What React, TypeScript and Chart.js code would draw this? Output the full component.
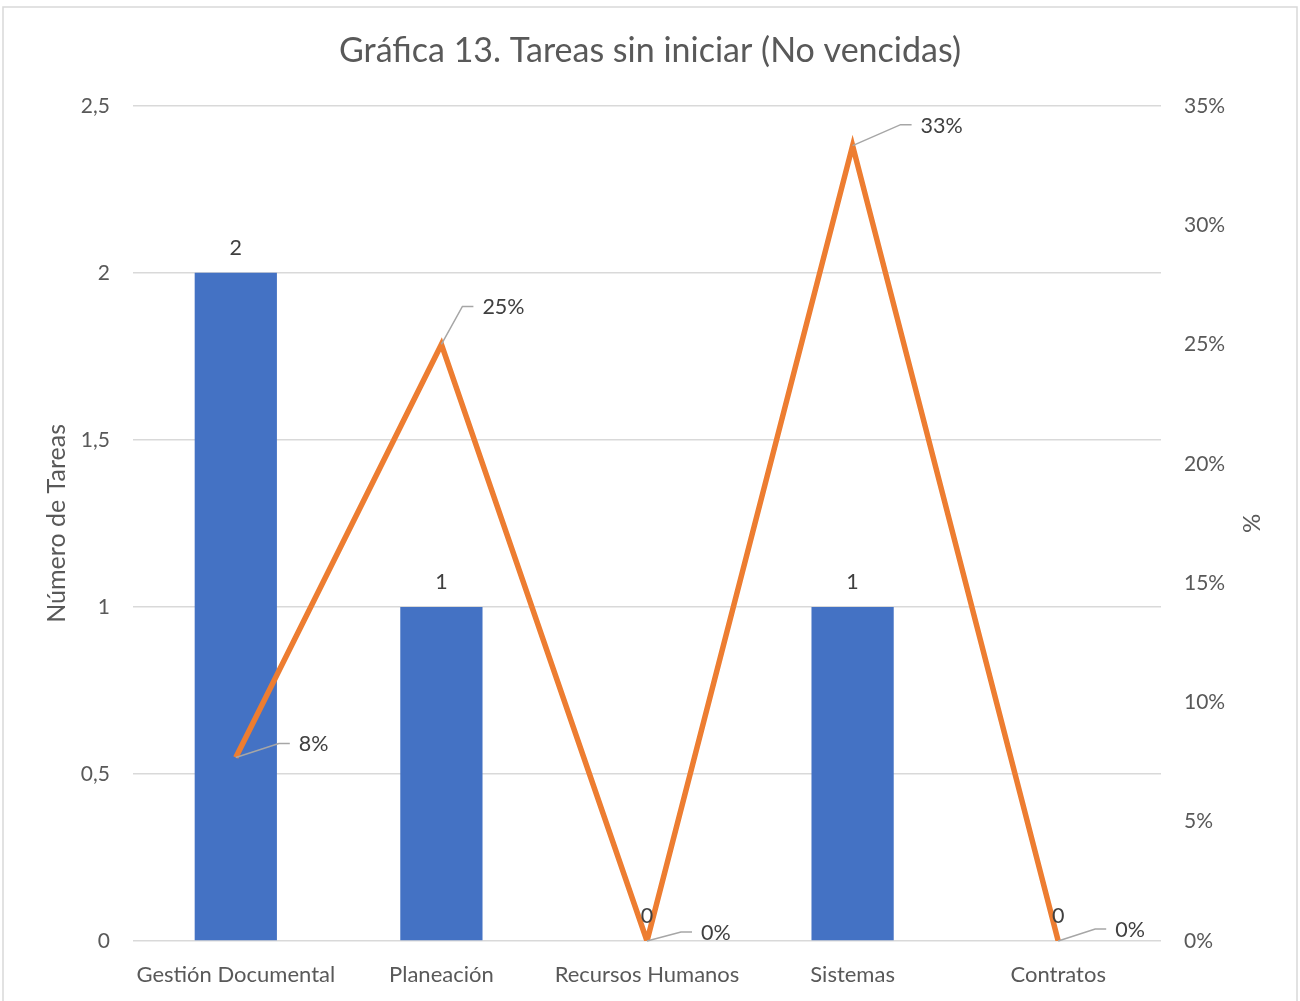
import React, { useEffect, useRef } from "react";
import { Chart, registerables } from "chart.js";

Chart.register(...registerables);

const categories = ["Gestión Documental", "Planeación", "Recursos Humanos", "Sistemas", "Contratos"];
const taskCounts = [2, 1, 0, 1, 0];
const percentages = [7.69, 25, 0, 33.33, 0];
const percentLabels = ["8%", "25%", "0%", "33%", "0%"];
const titleText = "Gráfica 13. Tareas sin iniciar (No vencidas)";
const leftAxisTitle = "Número de Tareas";
const rightAxisTitle = "%";

// label placement (style): offset of text start from point [dx, dy]
const LABEL_OFFSETS: number[][] = [
  [63, -14],
  [41, -38],
  [54, -9],
  [68, -21],
  [57, -12],
];

const FONT = "Lato";
const AXIS_COLOR = "#595959";
const LABEL_COLOR = "#404040";

const decorPlugin = {
  id: "decor",
  beforeDraw(chart: any) {
    const ctx = chart.ctx;
    ctx.save();
    ctx.fillStyle = "#ffffff";
    ctx.fillRect(0, 0, chart.width, chart.height);
    ctx.strokeStyle = "#d9d9d9";
    ctx.lineWidth = 1.5;
    ctx.strokeRect(3, 7, 1294, 1000);
    ctx.restore();
  },
  afterDatasetsDraw(chart: any) {
    const ctx = chart.ctx;
    ctx.save();
    ctx.font = `21.5px ${FONT}`;
    ctx.fillStyle = LABEL_COLOR;
    // bar labels
    const barMeta = chart.getDatasetMeta(0);
    barMeta.data.forEach((el: any, i: number) => {
      ctx.textAlign = "center";
      ctx.textBaseline = "middle";
      ctx.fillText(String(taskCounts[i]), el.x, el.y - 25);
    });
    // line labels with leader lines
    const lineMeta = chart.getDatasetMeta(1);
    lineMeta.data.forEach((el: any, i: number) => {
      const [dx, dy] = LABEL_OFFSETS[i];
      const tx = el.x + dx;
      const ty = el.y + dy;
      ctx.strokeStyle = "#a6a6a6";
      ctx.lineWidth = 1.5;
      ctx.beginPath();
      ctx.moveTo(el.x, el.y);
      ctx.lineTo(tx - 20, ty);
      ctx.lineTo(tx - 9, ty);
      ctx.stroke();
      ctx.textAlign = "left";
      ctx.textBaseline = "middle";
      ctx.fillStyle = LABEL_COLOR;
      ctx.fillText(percentLabels[i], tx, ty + 1);
    });
    ctx.restore();
  },
};

export default function App() {
  const canvasRef = useRef<HTMLCanvasElement>(null);

  useEffect(() => {
    if (!canvasRef.current) return;
    const chart = new Chart(canvasRef.current, {
      type: "bar",
      data: {
        labels: categories,
        datasets: [
          {
            type: "bar",
            label: "Número de Tareas",
            data: taskCounts,
            backgroundColor: "#4472C4",
            barPercentage: 0.4,
            categoryPercentage: 1,
            yAxisID: "y",
            order: 2,
          },
          {
            type: "line",
            label: "%",
            data: percentages,
            borderColor: "#ED7D31",
            backgroundColor: "#ED7D31",
            borderWidth: 5.5,
            pointRadius: 0,
            tension: 0,
            yAxisID: "y1",
            order: 1,
          } as any,
        ],
      },
      options: {
        responsive: false,
        animation: false,
        layout: { padding: 0 },
        plugins: {
          legend: { display: false },
          tooltip: { enabled: false },
          title: {
            display: true,
            text: titleText,
            color: AXIS_COLOR,
            font: { family: FONT, size: 34, weight: "normal" },
            padding: { top: 31, bottom: 34 },
          },
        },
        scales: {
          x: {
            offset: true,
            grid: { display: false },
            border: { display: false },
            ticks: {
              color: AXIS_COLOR,
              font: { family: FONT, size: 22 },
              padding: 13,
              maxRotation: 0,
            },
            afterFit(scale: any) {
              scale.height = 60;
            },
          },
          y: {
            position: "left",
            min: 0,
            max: 2.5,
            border: { display: false },
            grid: { color: "#d9d9d9", lineWidth: 1.5, drawTicks: false },
            ticks: {
              stepSize: 0.5,
              color: AXIS_COLOR,
              font: { family: FONT, size: 21 },
              padding: 23,
              callback: (v: any) => String(v).replace(".", ","),
            },
            title: {
              display: true,
              text: leftAxisTitle,
              color: AXIS_COLOR,
              font: { family: FONT, size: 25, weight: "normal" },
              padding: { top: 42, bottom: 0 },
            },
            afterFit(scale: any) {
              scale.width = 133;
            },
          },
          y1: {
            position: "right",
            min: 0,
            max: 35,
            border: { display: false },
            grid: { display: false, drawTicks: false },
            ticks: {
              stepSize: 5,
              color: AXIS_COLOR,
              font: { family: FONT, size: 21 },
              padding: 23,
              callback: (v: any) => `${v}%`,
            },
            title: {
              display: true,
              text: rightAxisTitle,
              color: AXIS_COLOR,
              font: { family: FONT, size: 24, weight: "normal" },
              padding: { top: 35, bottom: 0 },
            },
            afterFit(scale: any) {
              scale.width = 139;
            },
          },
        },
      },
      plugins: [decorPlugin],
    });
    return () => chart.destroy();
  }, []);

  return (
    <div style={{ position: "absolute", left: 0, top: 0, width: 1300, height: 1001, background: "#fff" }}>
      <canvas ref={canvasRef} width={1300} height={1001} style={{ display: "block" }} />
    </div>
  );
}
